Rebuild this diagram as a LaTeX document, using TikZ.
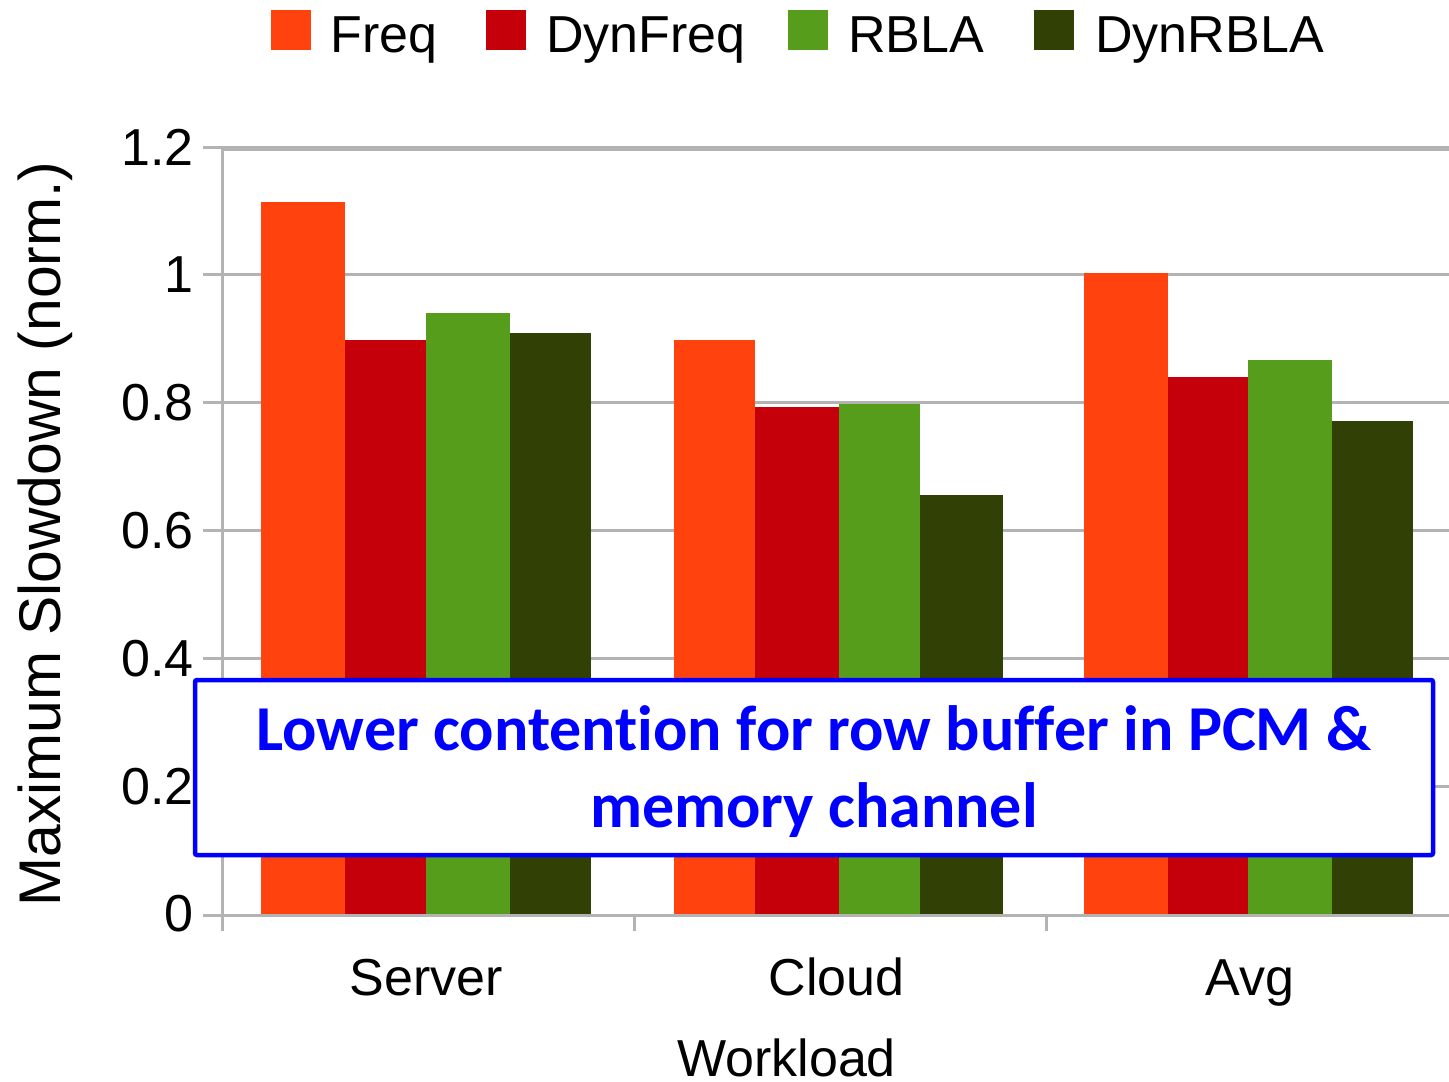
\documentclass[tikz,border=0pt]{standalone}
\usepackage{fontspec}
\setmainfont{Liberation Sans}
\newfontfamily\notefont[Ligatures=NoCommon]{Carlito}
\definecolor{cfreq}{HTML}{FF420E}
\definecolor{cdynfreq}{HTML}{C5000B}
\definecolor{crbla}{HTML}{579D1C}
\definecolor{cdynrbla}{HTML}{314004}
\definecolor{gridgray}{HTML}{B3B3B3}
\definecolor{noteblue}{HTML}{0000FF}
\begin{document}
\begin{tikzpicture}[x=0.5pt,y=-0.5pt,
  gridline/.style={draw=gridgray, line width=1.5pt},
  lbl/.style={font=\fontsize{26}{30}\selectfont, inner sep=0pt, text=black},
  ylbl/.style={font=\fontsize{29.4}{34}\selectfont, inner sep=0pt, text=black},
  notetxt/.style={font=\notefont\bfseries\fontsize{32}{38}\selectfont, inner sep=0pt, text=noteblue},
  notebox/.style={draw=noteblue, fill=white, line width=2.25pt, rounded corners=1pt, inner sep=0pt},
  legsq/.style={inner sep=0pt, minimum size=20pt}]
\useasboundingbox (0,0) rectangle (1449,1081);
\fill[white] (0,0) rectangle (1449,1081);
% gridlines
\foreach \yy in {786.2,658.4,530.6,402.8,274.5,147.2}
  \draw[gridline] (203,\yy) -- (1449,\yy);
\draw[gridline] (222,149.5) -- (1449,149.5);
% bars: Server
\fill[cfreq]    (261,914) rectangle (345,201.7);
\fill[cdynfreq] (345,914) rectangle (426,340);
\fill[crbla]    (426,914) rectangle (510,312.7);
\fill[cdynrbla] (510,914) rectangle (591,332.7);
% Cloud
\fill[cfreq]    (674,914) rectangle (755,340);
\fill[cdynfreq] (755,914) rectangle (839,407);
\fill[crbla]    (839,914) rectangle (920,404);
\fill[cdynrbla] (920,914) rectangle (1003,495);
% Avg
\fill[cfreq]    (1084,914) rectangle (1168,273);
\fill[cdynfreq] (1168,914) rectangle (1248,377);
\fill[crbla]    (1248,914) rectangle (1332,360);
\fill[cdynrbla] (1332,914) rectangle (1413,421);
% axes
\draw[gridline] (203,915) -- (1449,915);
\draw[gridline] (222,147.2) -- (222,931);
\draw[gridline] (634.5,915) -- (634.5,931);
\draw[gridline] (1046,915) -- (1046,931);
% tick labels
\node[lbl, anchor=east] (t0)  at (194,914)   {0};
\node[lbl, anchor=east] (t02) at (194,786.2) {0.2};
\node[lbl, anchor=east] (t04) at (194,658.4) {0.4};
\node[lbl, anchor=east] (t06) at (194,530.6) {0.6};
\node[lbl, anchor=east] (t08) at (194,402.8) {0.8};
\node[lbl, anchor=east] (t10) at (194,274.5) {1};
\node[lbl, anchor=east] (t12) at (194,147.2) {1.2};
% category labels
\node[lbl, anchor=base] (server) at (426.5,995) {Server};
\node[lbl, anchor=base] (cloud)  at (836.5,995) {Cloud};
\node[lbl, anchor=base] (avg)    at (1250,995)  {Avg};
\node[lbl, anchor=base] (xlab)   at (786.5,1076) {Workload};
\node[ylbl, anchor=base, rotate=90] (ylab) at (60,534) {Maximum Slowdown (norm.)};
% legend
\node[legsq, fill=cfreq]    (lq1) at (291,30)    {};
\node[legsq, fill=cdynfreq] (lq2) at (506,30)    {};
\node[legsq, fill=crbla]    (lq3) at (808,30)    {};
\node[legsq, fill=cdynrbla] (lq4) at (1053.5,30) {};
\node[lbl, anchor=base west] (lt1) at (330,53)  {Freq};
\node[lbl, anchor=base west] (lt2) at (546,53)  {DynFreq};
\node[lbl, anchor=base west] (lt3) at (848,53)  {RBLA};
\node[lbl, anchor=base west] (lt4) at (1095,53) {DynRBLA};
% annotation
\node[notebox, minimum width=619pt, minimum height=87.5pt] (note) at (814,767.5) {};
\node[notetxt, anchor=base] (note1) at (814,750) {Lower contention for row buffer in PCM \&};
\node[notetxt, anchor=base] (note2) at (814,827) {memory channel};
\end{tikzpicture}
\end{document}
